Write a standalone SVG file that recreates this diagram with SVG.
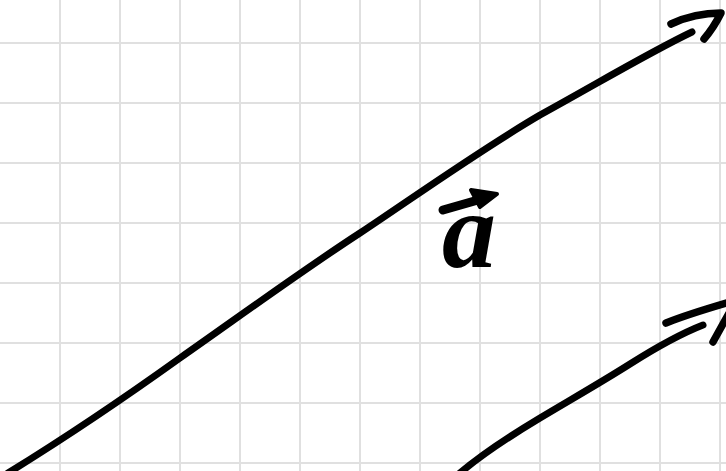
<svg xmlns="http://www.w3.org/2000/svg" width="726" height="471" viewBox="0 0 726 471">
<defs>
<style>
.grid line{stroke:#e0e0e0;stroke-width:2}
.ink{fill:none;stroke:#000;stroke-linecap:round;stroke-linejoin:round}
.label{font-family:"Liberation Serif","Times New Roman",serif;font-size:108px;font-weight:bold;font-style:italic;fill:#000}
</style>
</defs>
<rect width="726" height="471" fill="#fff"/>
<g class="grid">
<line x1="60" y1="0" x2="60" y2="471"/><line x1="120" y1="0" x2="120" y2="471"/><line x1="180" y1="0" x2="180" y2="471"/><line x1="240" y1="0" x2="240" y2="471"/><line x1="300" y1="0" x2="300" y2="471"/><line x1="360" y1="0" x2="360" y2="471"/><line x1="420" y1="0" x2="420" y2="471"/><line x1="480" y1="0" x2="480" y2="471"/><line x1="540" y1="0" x2="540" y2="471"/><line x1="600" y1="0" x2="600" y2="471"/><line x1="660" y1="0" x2="660" y2="471"/><line x1="720" y1="0" x2="720" y2="471"/>
<line x1="0" y1="43" x2="726" y2="43"/><line x1="0" y1="103" x2="726" y2="103"/><line x1="0" y1="163" x2="726" y2="163"/><line x1="0" y1="223" x2="726" y2="223"/><line x1="0" y1="283" x2="726" y2="283"/><line x1="0" y1="343" x2="726" y2="343"/><line x1="0" y1="403" x2="726" y2="403"/><line x1="0" y1="463" x2="726" y2="463"/>
</g>
<g id="connectors">
<g id="arrow-a">
<path class="ink" stroke-width="7" d="M8,473 C60,441 120,401 180,358 C240,316 300,272 360,233 C420,193 480,150 540,115 C600,82 650,52 692,32"/>
<path class="ink" stroke-width="7.5" d="M671,24 C688,16 705,13 721,13 C716,23 710,32 704,39"/>
</g>
<g id="arrow-b">
<path class="ink" stroke-width="7" d="M460,473 C480,456 510,436 540,418 C570,400 600,383 630,364 C660,345 680,334 703,325"/>
<path class="ink" stroke-width="7.5" d="M666,323 C686,315 706,309 730,302"/>
<path class="ink" stroke-width="7.5" d="M713,342 C718,333 724,322 732,308"/>
</g>
</g>
<g id="label-a">
<text class="label" x="442" y="267">a</text>
<path d="M443,210 L478,200" stroke="#000" stroke-width="9" stroke-linecap="round" fill="none"/>
<path d="M471,190 L497,194 L480,207 Z" fill="#000" stroke="#000" stroke-width="4" stroke-linejoin="round"/>
</g>
</svg>
